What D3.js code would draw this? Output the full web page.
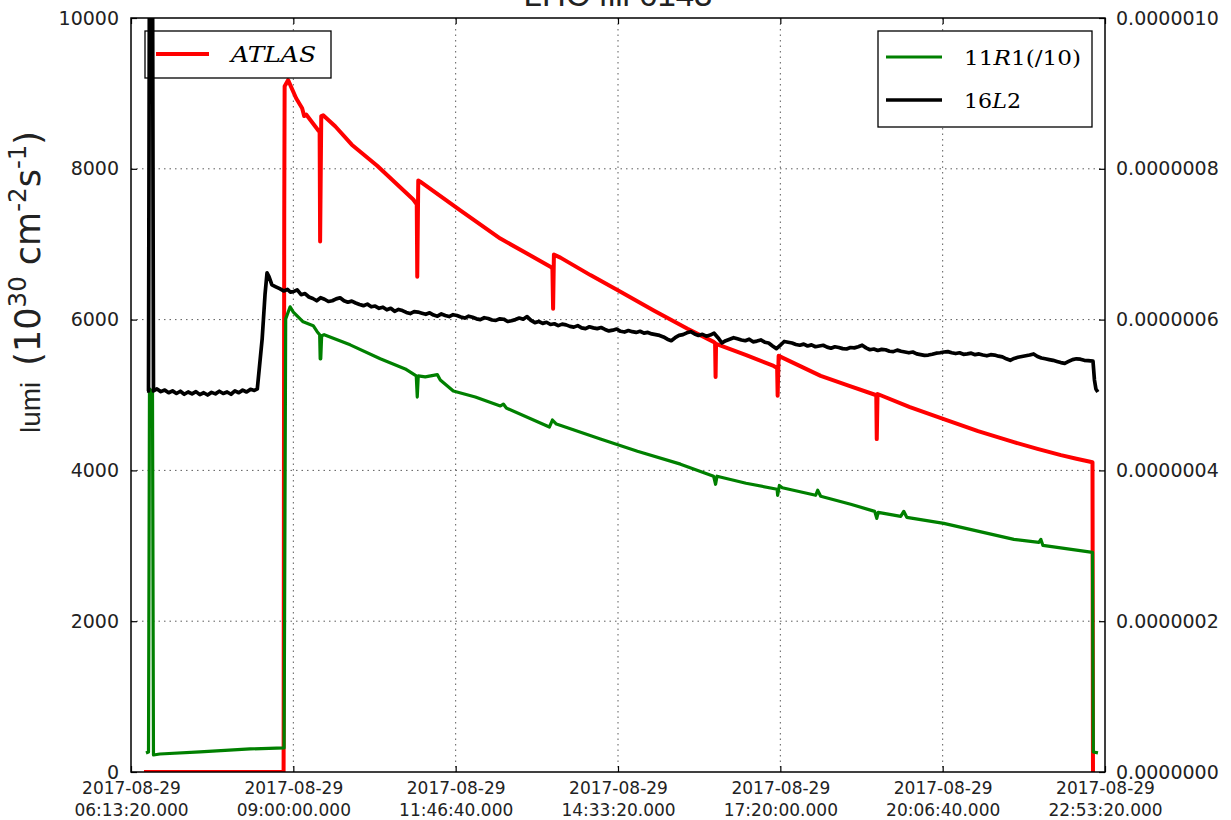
<!DOCTYPE html>
<html>
<head>
<meta charset="utf-8">
<script src="https://cdn.jsdelivr.net/npm/d3@7"></script>
<style>
  html, body { margin: 0; padding: 0; background: #fff; }
  svg { display: block; }
</style>
</head>
<body>
<svg id="chart" width="1231" height="820"></svg>
<script>
// Fill 6143, 2017-08-29: ATLAS luminosity (left axis) with two beam-loss monitors (right axis)
const day = "2017-08-29";
const xTickTimes = ["06:13:20", "09:00:00", "11:46:40", "14:33:20", "17:20:00", "20:06:40", "22:53:20"];
const leftTicks = [0, 2000, 4000, 6000, 8000, 10000];
const rightTicks = [0, 2e-7, 4e-7, 6e-7, 8e-7, 1e-6];

// ATLAS luminosity, 10^30 cm^-2 s^-1
const atlas = [
  ["06:26:40", 0], ["08:50:00", 0], ["08:50:40", 7400], ["08:51:04", 9096], ["08:54:40", 9176],
  ["09:02:53", 8936], ["09:09:03", 8803], ["09:11:06", 8700], ["09:13:12", 8720], ["09:25:30", 8511],
  ["09:27:00", 8490], ["09:27:30", 7035], ["09:28:40", 8700], ["09:30:38", 8710], ["09:42:58", 8564],
  ["10:00:00", 8320], ["10:26:05", 8040], ["11:03:07", 7593], ["11:06:43", 7527],
  ["11:07:14", 6569], ["11:08:16", 7846], ["11:10:19", 7830], ["11:51:25", 7447], ["12:32:32", 7075],
  ["13:23:56", 6702], ["13:26:00", 6676], ["13:26:42", 6144], ["13:27:32", 6862], ["13:34:13", 6822],
  ["14:05:00", 6590], ["14:35:53", 6370], ["15:10:00", 6120], ["15:44:44", 5878], ["16:11:29", 5705],
  ["16:13:00", 5692], ["16:13:31", 5240], ["16:14:00", 5678], ["16:45:00", 5530], ["17:13:07", 5386],
  ["17:16:43", 5359], ["17:17:14", 4990], ["17:18:16", 5519], ["18:01:26", 5253], ["18:30:00", 5125],
  ["18:57:55", 5000], ["18:58:30", 4995], ["18:59:00", 4415], ["18:59:48", 5013], ["19:33:00", 4840],
  ["20:07:50", 4681], ["20:43:00", 4520], ["21:19:46", 4375], ["21:44:00", 4285], ["22:08:06", 4202],
  ["22:24:00", 4155], ["22:40:30", 4109], ["22:41:00", 0]
];

// BLM 11R1, divided by 10
const blm11R1 = [
  ["06:28:42", 2.53e-8], ["06:31:18", 2.66e-8], ["06:32:18", 5.08e-7], ["06:35:24", 5.04e-7],
  ["06:36:24", 2.26e-8], ["06:42:54", 2.39e-8], ["07:24:12", 2.66e-8], ["08:15:36", 3.06e-8],
  ["08:50:30", 3.19e-8], ["08:52:10", 6.01e-7], ["08:56:42", 6.17e-7], ["09:00:00", 6.10e-7],
  ["09:10:04", 5.97e-7], ["09:20:24", 5.92e-7], ["09:24:28", 5.84e-7], ["09:27:02", 5.80e-7],
  ["09:27:33", 5.48e-7], ["09:28:10", 5.48e-7], ["09:29:05", 5.785e-7], ["09:31:39", 5.80e-7],
  ["09:58:22", 5.665e-7], ["10:29:14", 5.48e-7], ["10:54:54", 5.346e-7], ["11:06:12", 5.253e-7],
  ["11:07:14", 4.973e-7], ["11:08:16", 5.253e-7], ["11:15:28", 5.24e-7], ["11:27:50", 5.27e-7],
  ["11:30:52", 5.20e-7], ["11:44:14", 5.053e-7], ["12:06:50", 4.974e-7], ["12:32:32", 4.854e-7],
  ["12:35:38", 4.88e-7], ["12:38:40", 4.827e-7], ["13:22:52", 4.575e-7], ["13:26:00", 4.668e-7],
  ["13:30:06", 4.614e-7], ["14:15:18", 4.415e-7], ["14:53:18", 4.255e-7], ["15:37:30", 4.083e-7],
  ["16:11:29", 3.923e-7], ["16:13:31", 3.816e-7], ["16:15:00", 3.923e-7], ["16:44:48", 3.83e-7],
  ["17:16:43", 3.75e-7], ["17:17:14", 3.67e-7], ["17:19:00", 3.80e-7], ["17:22:00", 3.77e-7],
  ["17:56:17", 3.67e-7], ["17:58:20", 3.737e-7], ["18:01:26", 3.657e-7], ["18:32:14", 3.551e-7],
  ["18:56:53", 3.457e-7], ["18:59:00", 3.364e-7], ["19:00:32", 3.444e-7], ["19:23:36", 3.391e-7],
  ["19:26:42", 3.457e-7], ["19:29:48", 3.378e-7], ["20:07:50", 3.298e-7], ["21:19:46", 3.085e-7],
  ["21:45:30", 3.045e-7], ["21:47:30", 3.085e-7], ["21:49:36", 3.005e-7], ["22:40:30", 2.912e-7],
  ["22:41:18", 2.66e-8], ["22:46:06", 2.53e-8]
];

// BLM 16L2
const blm16L2 = [
  ["06:29:42", 5.053e-7], ["06:31:18", 5.053e-7], ["06:32:18", 1.1e-6], ["06:35:24", 1.1e-6], ["06:36:24", 5.053e-7],
  ["06:40", 5.080e-7], ["06:44", 5.045e-7], ["06:48", 5.065e-7], ["06:52", 5.030e-7], ["06:56", 5.055e-7],
  ["07:00", 5.020e-7], ["07:04", 5.050e-7], ["07:08", 5.010e-7], ["07:12", 5.040e-7], ["07:16", 5.015e-7],
  ["07:20", 5.045e-7], ["07:24", 5.005e-7], ["07:28", 5.030e-7], ["07:32", 5.000e-7], ["07:36", 5.035e-7],
  ["07:40", 5.015e-7], ["07:44", 5.050e-7], ["07:48", 5.020e-7], ["07:52", 5.040e-7], ["07:56", 5.010e-7],
  ["08:00", 5.055e-7], ["08:04", 5.030e-7], ["08:08", 5.065e-7], ["08:12", 5.040e-7], ["08:16", 5.075e-7],
  ["08:20", 5.060e-7], ["08:23", 5.080e-7], ["08:28", 5.745e-7], ["08:31", 6.343e-7], ["08:33", 6.620e-7],
  ["08:35", 6.570e-7], ["08:38", 6.460e-7], ["08:42", 6.435e-7], ["08:46", 6.410e-7], ["08:50", 6.380e-7],
  ["08:54", 6.400e-7], ["08:57", 6.365e-7],
  ["09:00", 6.370e-7], ["09:04", 6.395e-7], ["09:08", 6.330e-7], ["09:12", 6.345e-7], ["09:16", 6.300e-7],
  ["09:20", 6.280e-7], ["09:24", 6.250e-7], ["09:28", 6.290e-7], ["09:32", 6.270e-7], ["09:36", 6.240e-7],
  ["09:40", 6.250e-7], ["09:44", 6.275e-7], ["09:48", 6.290e-7], ["09:52", 6.250e-7], ["09:56", 6.230e-7],
  ["10:00", 6.245e-7], ["10:04", 6.220e-7], ["10:08", 6.200e-7], ["10:12", 6.185e-7], ["10:16", 6.205e-7],
  ["10:20", 6.170e-7], ["10:24", 6.180e-7], ["10:28", 6.150e-7], ["10:32", 6.165e-7], ["10:36", 6.130e-7],
  ["10:40", 6.150e-7], ["10:44", 6.110e-7], ["10:48", 6.135e-7], ["10:52", 6.120e-7], ["10:56", 6.095e-7],
  ["11:00", 6.080e-7], ["11:04", 6.105e-7], ["11:08", 6.100e-7], ["11:12", 6.085e-7], ["11:16", 6.070e-7],
  ["11:20", 6.090e-7], ["11:24", 6.060e-7], ["11:28", 6.045e-7], ["11:32", 6.075e-7], ["11:36", 6.055e-7],
  ["11:40", 6.040e-7], ["11:44", 6.065e-7], ["11:48", 6.055e-7], ["11:52", 6.035e-7], ["11:56", 6.020e-7],
  ["12:00", 6.045e-7], ["12:04", 6.030e-7], ["12:08", 6.010e-7], ["12:12", 6.000e-7], ["12:16", 6.025e-7],
  ["12:20", 6.015e-7], ["12:24", 5.995e-7], ["12:28", 5.990e-7], ["12:32", 6.010e-7], ["12:36", 6.005e-7],
  ["12:40", 5.975e-7], ["12:44", 5.985e-7], ["12:48", 6.000e-7], ["12:52", 6.020e-7], ["12:56", 6.005e-7],
  ["13:00", 6.040e-7], ["13:04", 5.990e-7], ["13:08", 5.960e-7], ["13:12", 5.975e-7], ["13:16", 5.950e-7],
  ["13:20", 5.965e-7], ["13:24", 5.935e-7], ["13:28", 5.945e-7], ["13:32", 5.920e-7], ["13:36", 5.940e-7],
  ["13:40", 5.930e-7], ["13:44", 5.910e-7], ["13:48", 5.900e-7], ["13:52", 5.920e-7], ["13:56", 5.890e-7],
  ["14:00", 5.880e-7], ["14:04", 5.905e-7], ["14:08", 5.890e-7], ["14:12", 5.880e-7], ["14:16", 5.895e-7],
  ["14:20", 5.870e-7], ["14:24", 5.850e-7], ["14:28", 5.860e-7], ["14:32", 5.875e-7], ["14:36", 5.845e-7],
  ["14:40", 5.835e-7], ["14:44", 5.855e-7], ["14:48", 5.840e-7], ["14:52", 5.830e-7], ["14:56", 5.845e-7],
  ["15:00", 5.820e-7], ["15:04", 5.830e-7], ["15:08", 5.810e-7], ["15:12", 5.800e-7], ["15:16", 5.790e-7],
  ["15:20", 5.770e-7], ["15:24", 5.740e-7], ["15:28", 5.720e-7], ["15:32", 5.760e-7], ["15:36", 5.790e-7],
  ["15:40", 5.800e-7], ["15:44", 5.825e-7], ["15:48", 5.840e-7], ["15:52", 5.810e-7], ["15:56", 5.790e-7],
  ["16:00", 5.805e-7], ["16:04", 5.780e-7], ["16:08", 5.795e-7], ["16:12", 5.820e-7], ["16:16", 5.760e-7],
  ["16:20", 5.690e-7], ["16:24", 5.720e-7], ["16:28", 5.740e-7], ["16:32", 5.760e-7], ["16:36", 5.745e-7],
  ["16:40", 5.730e-7], ["16:44", 5.720e-7], ["16:48", 5.740e-7], ["16:52", 5.705e-7], ["16:56", 5.715e-7],
  ["17:00", 5.730e-7], ["17:04", 5.700e-7], ["17:08", 5.690e-7], ["17:12", 5.650e-7], ["17:16", 5.615e-7],
  ["17:20", 5.660e-7], ["17:24", 5.710e-7], ["17:28", 5.700e-7], ["17:32", 5.690e-7], ["17:36", 5.670e-7],
  ["17:40", 5.660e-7], ["17:44", 5.675e-7], ["17:48", 5.650e-7], ["17:52", 5.665e-7], ["17:56", 5.640e-7],
  ["18:00", 5.650e-7], ["18:04", 5.660e-7], ["18:08", 5.635e-7], ["18:12", 5.620e-7], ["18:16", 5.640e-7],
  ["18:20", 5.630e-7], ["18:24", 5.615e-7], ["18:28", 5.610e-7], ["18:32", 5.630e-7], ["18:36", 5.625e-7],
  ["18:40", 5.640e-7], ["18:44", 5.660e-7], ["18:48", 5.625e-7], ["18:52", 5.600e-7], ["18:56", 5.610e-7],
  ["19:00", 5.590e-7], ["19:04", 5.605e-7], ["19:08", 5.600e-7], ["19:12", 5.580e-7], ["19:16", 5.575e-7],
  ["19:20", 5.595e-7], ["19:24", 5.580e-7], ["19:28", 5.570e-7], ["19:32", 5.560e-7], ["19:36", 5.570e-7],
  ["19:40", 5.545e-7], ["19:44", 5.535e-7], ["19:48", 5.525e-7], ["19:52", 5.530e-7], ["19:56", 5.540e-7],
  ["20:00", 5.555e-7], ["20:04", 5.560e-7], ["20:08", 5.570e-7], ["20:12", 5.575e-7], ["20:16", 5.560e-7],
  ["20:20", 5.550e-7], ["20:24", 5.560e-7], ["20:28", 5.540e-7], ["20:32", 5.545e-7], ["20:36", 5.555e-7],
  ["20:40", 5.535e-7], ["20:44", 5.545e-7], ["20:48", 5.530e-7], ["20:52", 5.520e-7], ["20:56", 5.535e-7],
  ["21:00", 5.530e-7], ["21:04", 5.515e-7], ["21:08", 5.505e-7], ["21:12", 5.480e-7], ["21:16", 5.460e-7],
  ["21:20", 5.485e-7], ["21:24", 5.500e-7], ["21:28", 5.510e-7], ["21:32", 5.520e-7], ["21:36", 5.530e-7],
  ["21:40", 5.545e-7], ["21:44", 5.510e-7], ["21:48", 5.490e-7], ["21:52", 5.480e-7], ["21:56", 5.470e-7],
  ["22:00", 5.460e-7], ["22:04", 5.445e-7], ["22:08", 5.430e-7], ["22:12", 5.420e-7], ["22:16", 5.445e-7],
  ["22:20", 5.470e-7], ["22:24", 5.480e-7], ["22:28", 5.475e-7], ["22:32", 5.460e-7], ["22:36", 5.455e-7],
  ["22:41", 5.450e-7], ["22:42:30", 5.200e-7], ["22:44", 5.080e-7], ["22:46", 5.040e-7]
];

const titleText = "LHC fill 6143";

// ---- layout ----
const svg = d3.select("#chart");
const plot = { left: 131, right: 1105, top: 18, bottom: 772 };

const parseT = d3.utcParse("%Y-%m-%d %H:%M:%S");
const toDate = s => parseT(day + " " + (s.length === 5 ? s + ":00" : s));

const x = d3.scaleUtc()
  .domain([toDate(xTickTimes[0]), toDate(xTickTimes[xTickTimes.length - 1])])
  .range([plot.left, plot.right]);
const yL = d3.scaleLinear().domain([0, 10000]).range([plot.bottom, plot.top]);
const yR = d3.scaleLinear().domain([0, 1e-6]).range([plot.bottom, plot.top]);

svg.append("rect").attr("width", 1231).attr("height", 820).attr("fill", "#fff");

svg.append("defs").append("clipPath").attr("id", "plotClip")
  .append("rect")
  .attr("x", plot.left).attr("y", plot.top)
  .attr("width", plot.right - plot.left).attr("height", plot.bottom - plot.top);

// ---- dotted grid ----
const grid = svg.append("g").attr("stroke", "#000").attr("stroke-width", 0.8)
  .attr("stroke-dasharray", "1.5,4").attr("opacity", 0.8);
xTickTimes.slice(1, -1).forEach(s => {
  const gx = x(toDate(s));
  grid.append("line").attr("x1", gx).attr("x2", gx).attr("y1", plot.top).attr("y2", plot.bottom);
});
leftTicks.slice(1, -1).forEach(v => {
  grid.append("line").attr("x1", plot.left).attr("x2", plot.right).attr("y1", yL(v)).attr("y2", yL(v));
});

// ---- ATLAS luminosity (left axis) ----
const lineL = d3.line().x(d => x(toDate(d[0]))).y(d => yL(d[1]));
const lineR = d3.line().x(d => x(toDate(d[0]))).y(d => yR(d[1]));

svg.append("path").datum(atlas)
  .attr("clip-path", "url(#plotClip)")
  .attr("d", lineL).attr("fill", "none")
  .attr("stroke", "#ff0000").attr("stroke-width", 4)
  .attr("stroke-linejoin", "round");

// legend of the left axis
function legendBox(g, x0, y0, w, h) {
  g.append("rect").attr("x", x0).attr("y", y0).attr("width", w).attr("height", h)
    .attr("fill", "#fff").attr("stroke", "#000").attr("stroke-width", 1.3);
}
const legL = svg.append("g");
legendBox(legL, 145, 31, 186, 47);
legL.append("line").attr("x1", 156).attr("x2", 209).attr("y1", 54).attr("y2", 54)
  .attr("stroke", "#ff0000").attr("stroke-width", 4);
legL.append("text").attr("x", 231).attr("y", 62)
  .attr("font-family", "DejaVu Serif").attr("font-style", "italic").attr("font-size", 22)
  .attr("textLength", 85).attr("lengthAdjust", "spacingAndGlyphs")
  .text("ATLAS");

// ---- BLM signals (right axis) ----
svg.append("path").datum(blm11R1)
  .attr("clip-path", "url(#plotClip)")
  .attr("d", lineR).attr("fill", "none")
  .attr("stroke", "#008000").attr("stroke-width", 3.2)
  .attr("stroke-linejoin", "round");

svg.append("path").datum(blm16L2)
  .attr("clip-path", "url(#plotClip)")
  .attr("d", lineR).attr("fill", "none")
  .attr("stroke", "#000").attr("stroke-width", 3.7)
  .attr("stroke-linejoin", "round");

// legend of the right axis
const legR = svg.append("g");
legendBox(legR, 878, 31, 214, 96);
legR.append("line").attr("x1", 886).attr("x2", 942).attr("y1", 57).attr("y2", 57)
  .attr("stroke", "#008000").attr("stroke-width", 3.2);
legR.append("line").attr("x1", 886).attr("x2", 942).attr("y1", 100).attr("y2", 100)
  .attr("stroke", "#000").attr("stroke-width", 3.7);

function mathLabel(g, x0, y0, parts, len) {
  const t = g.append("text").attr("x", x0).attr("y", y0)
    .attr("font-family", "DejaVu Serif").attr("font-size", 21)
    .attr("textLength", len).attr("lengthAdjust", "spacingAndGlyphs");
  parts.forEach(([s, it]) => t.append("tspan").attr("font-style", it ? "italic" : "normal").text(s));
}
mathLabel(legR, 964, 65, [["11", false], ["R", true], ["1(/10)", false]], 117);
mathLabel(legR, 964, 108, [["16", false], ["L", true], ["2", false]], 57);

// ---- frame and axes ----
svg.append("rect")
  .attr("x", plot.left).attr("y", plot.top)
  .attr("width", plot.right - plot.left).attr("height", plot.bottom - plot.top)
  .attr("fill", "none").attr("stroke", "#000").attr("stroke-width", 1.5);

const tickFont = "DejaVu Sans";

const axL = svg.append("g").attr("transform", `translate(${plot.left},0)`)
  .call(d3.axisLeft(yL).tickValues(leftTicks).tickSize(-6).tickPadding(12).tickFormat(d3.format("d")));
axL.select(".domain").remove();
axL.selectAll("text").attr("font-family", tickFont).attr("font-size", 19).attr("fill", "#222");

const axR = svg.append("g").attr("transform", `translate(${plot.right},0)`)
  .call(d3.axisRight(yR).tickValues(rightTicks).tickSize(-6).tickPadding(11).tickFormat(d => d.toFixed(7)));
axR.select(".domain").remove();
axR.selectAll("text").attr("font-family", tickFont).attr("font-size", 19).attr("fill", "#222");

const xTickDates = xTickTimes.map(toDate);
const axB = svg.append("g").attr("transform", `translate(0,${plot.bottom})`)
  .call(d3.axisBottom(x).tickValues(xTickDates).tickSize(-6).tickFormat(() => ""));
axB.select(".domain").remove();
axB.selectAll(".tick text").each(function (d, i) {
  const t = d3.select(this).attr("y", null).attr("dy", null)
    .attr("font-family", tickFont).attr("font-size", 17).attr("fill", "#222");
  t.append("tspan").attr("x", 0).attr("y", 22).text(day);
  t.append("tspan").attr("x", 0).attr("y", 44).text(xTickTimes[i] + ".000");
});

const axT = svg.append("g").attr("transform", `translate(0,${plot.top})`)
  .call(d3.axisTop(x).tickValues(xTickDates).tickSize(-6).tickFormat(() => ""));
axT.select(".domain").remove();

svg.selectAll(".tick line").attr("stroke", "#000").attr("stroke-width", 1.2);

// ---- y-axis label: plain word followed by the unit in math style ----
const yLab = svg.append("text")
  .attr("transform", "translate(40,433) rotate(-90)")
  .attr("fill", "#222");
yLab.append("tspan").attr("font-family", "Liberation Sans").attr("font-size", 28).text("lumi");
const unit = [
  ["(10", 0, 35], ["30", -14, 24.5], [" cm", 14, 35], ["-2", -14, 24.5],
  ["s", 14, 35], ["-1", -14, 24.5], [")", 14, 35]
];
unit.forEach(([s, dy, fs], i) => {
  yLab.append("tspan")
    .attr("font-family", "DejaVu Sans").attr("font-size", fs)
    .attr("dx", i === 0 ? 16 : null)
    .attr("dy", dy || null)
    .text(s);
});

// ---- title ----
svg.append("text").attr("x", (plot.left + plot.right) / 2).attr("y", 6)
  .attr("text-anchor", "middle")
  .attr("font-family", "Liberation Sans").attr("font-size", 33).attr("fill", "#222")
  .text(titleText);
</script>
</body>
</html>
